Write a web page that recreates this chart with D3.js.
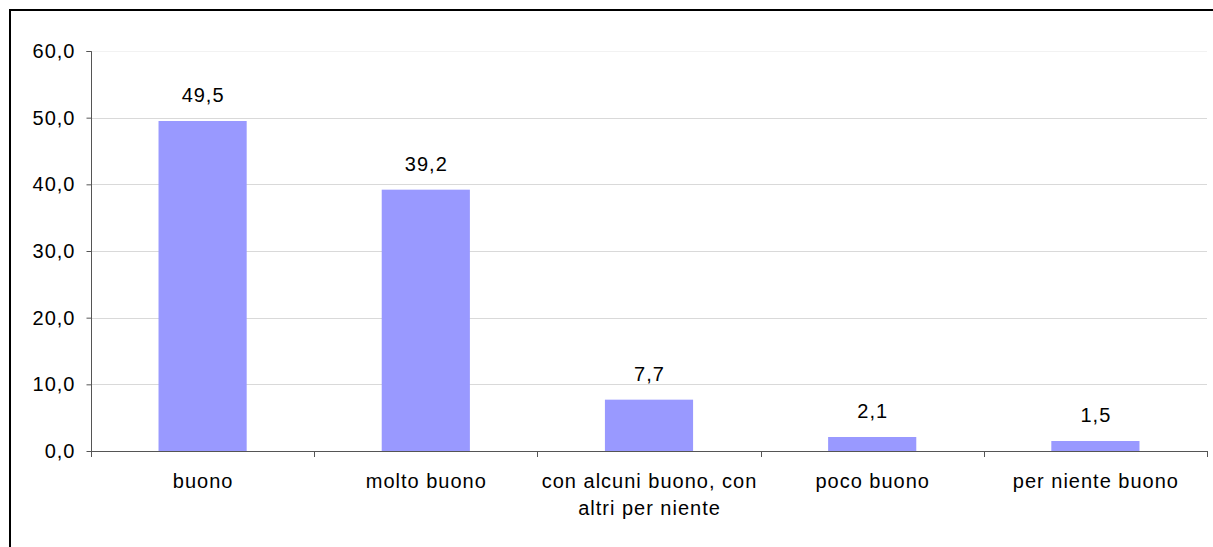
<!DOCTYPE html>
<html>
<head>
<meta charset="utf-8">
<script src="https://cdn.jsdelivr.net/npm/d3@7"></script>
<style>
  html, body { margin: 0; padding: 0; background: #fff; }
  svg { display: block; }
  text { font-family: "Liberation Sans", Arial, sans-serif; fill: #000; letter-spacing: 1px; }
</style>
</head>
<body>
<svg id="chart" width="1213" height="547"></svg>
<script>
// Giudizio espresso (%)
const categories = [
  ["buono"],
  ["molto buono"],
  ["con alcuni buono, con", "altri per niente"],
  ["poco buono"],
  ["per niente buono"]
];
const values = [49.5, 39.2, 7.7, 2.1, 1.5];
const yTicks = [0, 10, 20, 30, 40, 50, 60];

const fmt = v => v.toFixed(1).replace(".", ",");
const FONT = 20;

const svg = d3.select("#chart");

// chart frame
svg.append("rect")
  .attr("x", 10).attr("y", 10)
  .attr("width", 1220).attr("height", 560)
  .attr("fill", "#fff")
  .attr("stroke", "#000")
  .attr("stroke-width", 2);

const plot = { left: 91, right: 1207, top: 51, bottom: 451 };

const x = d3.scaleBand()
  .domain(d3.range(categories.length))
  .range([plot.left, plot.right])
  .paddingInner(0.605)
  .paddingOuter(0.3025);

const band = d3.scaleBand()
  .domain(d3.range(categories.length))
  .range([plot.left, plot.right]);

const y = d3.scaleLinear().domain([0, 60]).range([plot.bottom, plot.top]);

// gridlines
svg.append("g")
  .selectAll("line")
  .data(yTicks.filter(t => t > 0))
  .join("line")
  .attr("x1", plot.left).attr("x2", plot.right)
  .attr("y1", d => Math.round(y(d)) + 0.5)
  .attr("y2", d => Math.round(y(d)) + 0.5)
  .attr("stroke", d => d === 60 ? "#f2f2f2" : "#d9d9d9")
  .attr("stroke-width", 1);

// bars
svg.append("g")
  .selectAll("rect")
  .data(values)
  .join("rect")
  .attr("x", (d, i) => x(i))
  .attr("width", x.bandwidth())
  .attr("y", d => y(d))
  .attr("height", d => y(0) - y(d))
  .attr("fill", "#9999FF");

// value labels
svg.append("g")
  .selectAll("text")
  .data(values)
  .join("text")
  .attr("x", (d, i) => x(i) + x.bandwidth() / 2 + 0.5)
  .attr("y", d => y(d) - 19)
  .attr("text-anchor", "middle")
  .attr("font-size", FONT)
  .text(d => fmt(d));

// y axis
const yAxis = svg.append("g")
  .attr("transform", `translate(${plot.left + 0.5},0)`)
  .call(d3.axisLeft(y).tickValues(yTicks).tickFormat(fmt).tickSize(5).tickPadding(11));
yAxis.select(".domain").attr("stroke", "#555").attr("d", `M-5,${plot.top + 0.5}H0V${plot.bottom + 0.5}`);
yAxis.selectAll(".tick line").attr("stroke", "#555");
yAxis.selectAll(".tick text")
  .attr("font-size", FONT)
  .attr("font-family", "Liberation Sans, Arial, sans-serif")
  .attr("fill", "#000");

// x axis
const xg = svg.append("g");
xg.append("line")
  .attr("x1", plot.left).attr("x2", plot.right)
  .attr("y1", plot.bottom + 0.5).attr("y2", plot.bottom + 0.5)
  .attr("stroke", "#555");
const bounds = d3.range(categories.length + 1).map(i =>
  i < categories.length ? band(i) : band(i - 1) + band.bandwidth());
xg.selectAll("line.tick")
  .data(bounds)
  .join("line")
  .attr("class", "tick")
  .attr("x1", d => Math.round(d) + 0.5).attr("x2", d => Math.round(d) + 0.5)
  .attr("y1", plot.bottom).attr("y2", plot.bottom + 6)
  .attr("stroke", "#555");

// category labels
const cat = xg.selectAll("text.cat")
  .data(categories)
  .join("text")
  .attr("class", "cat")
  .attr("text-anchor", "middle")
  .attr("font-size", FONT)
  .attr("x", (d, i) => band(i) + band.bandwidth() / 2 + 0.5)
  .attr("y", 488);
cat.selectAll("tspan")
  .data(d => d)
  .join("tspan")
  .attr("x", function () { return d3.select(this.parentNode).attr("x"); })
  .attr("dy", (d, i) => i === 0 ? 0 : 27)
  .text(d => d);
</script>
</body>
</html>
